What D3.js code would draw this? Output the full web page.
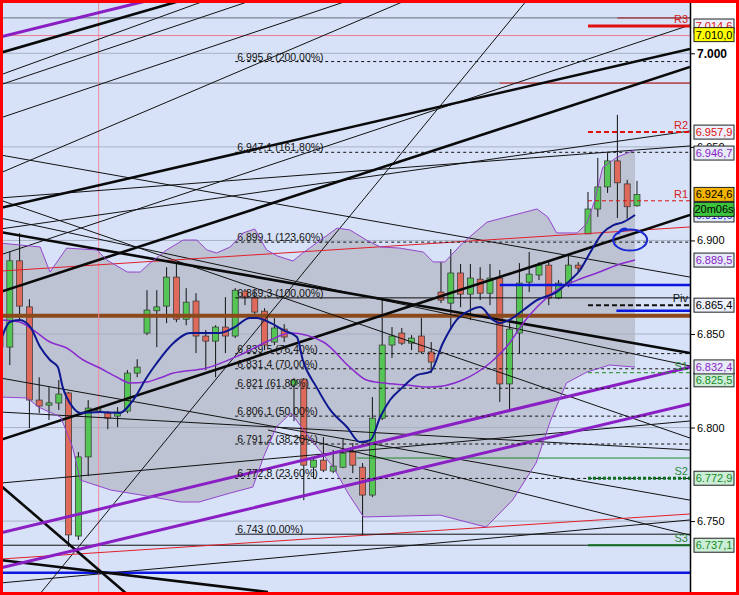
<!DOCTYPE html>
<html lang="en">
<head>
<meta charset="UTF-8">
<title>Candles with pivots and fibonacci levels</title>
<script src="https://cdn.jsdelivr.net/npm/d3@7"></script>
<style>
    body { margin: 0; background: #fff; }
    svg { display: block; font-family: "Liberation Sans", Arial, sans-serif; }
</style>
</head>
<body>
<script>
    const width  = 739;
    const height = 595;
    const plotRight = 690;

    // OHLC per candle (candle index = position)
    const open  = [6.8505,6.8430,6.8891,6.8645,6.8147,6.8120,6.8131,6.8185,6.7420,6.7843,6.8094,6.8077,6.8061,6.8088,6.8291,6.8505,6.8624,6.8649,6.8804,6.8579,6.8676,6.8489,6.8462,6.8537,6.8489,6.8729,6.8697,6.8622,6.8457,6.8526,6.8227,6.8259,6.7788,6.7826,6.7767,6.7788,6.7869,6.7788,6.7639,6.8050,6.8441,6.8505,6.8451,6.8489,6.8404,6.8724,6.8665,6.8826,6.8713,6.8793,6.8718,6.8799,6.8233,6.8505,6.8777,6.8815,6.8868,6.8692,6.8772,6.8868,6.9035,6.9168,6.9286,6.9425,6.9302,6.9185];
    const high  = [6.8547,6.8938,6.9039,6.8686,6.8269,6.8216,6.8254,6.8190,6.7869,6.8147,6.8104,6.8088,6.8109,6.8307,6.8365,6.8734,6.8734,6.8857,6.8879,6.8745,6.8718,6.8521,6.8547,6.8697,6.8745,6.8740,6.8734,6.8638,6.8585,6.8553,6.8265,6.8265,6.7842,6.7949,6.7880,6.7944,6.7917,6.7810,6.8163,6.8692,6.8537,6.8532,6.8494,6.8585,6.8457,6.8884,6.8954,6.8874,6.8874,6.8857,6.8874,6.8842,6.8558,6.8879,6.8938,6.8884,6.8884,6.8788,6.8922,6.8884,6.9259,6.9441,6.9467,6.9671,6.9324,6.9318];
    const low   = [6.8414,6.8334,6.8574,6.7997,6.8077,6.8040,6.8094,6.7362,6.7399,6.7740,6.8077,6.7991,6.8002,6.8077,6.8269,6.8494,6.8430,6.8558,6.8563,6.8547,6.8398,6.8307,6.8269,6.8398,6.8478,6.8654,6.8601,6.8414,6.8441,6.8457,6.8034,6.7612,6.7730,6.7762,6.7756,6.7783,6.7756,6.7426,6.7628,6.8040,6.8372,6.8441,6.8414,6.8398,6.8291,6.8665,6.8521,6.8643,6.8574,6.8681,6.8654,6.8137,6.8083,6.8398,6.8724,6.8788,6.8654,6.8686,6.8750,6.8831,6.9035,6.9126,6.9254,6.9120,6.9116,6.9180];
    const close = [6.8430,6.8891,6.8649,6.8147,6.8115,6.8132,6.8179,6.7426,6.7843,6.8104,6.8099,6.8050,6.8083,6.8291,6.8323,6.8628,6.8645,6.8804,6.8579,6.8670,6.8489,6.8462,6.8537,6.8489,6.8734,6.8697,6.8617,6.8441,6.8532,6.8484,6.8254,6.7799,6.7826,6.7772,6.7794,6.7863,6.7799,6.7639,6.8050,6.8441,6.8489,6.8451,6.8478,6.8404,6.8350,6.8681,6.8826,6.8713,6.8799,6.8718,6.8799,6.8233,6.8526,6.8772,6.8820,6.8868,6.8692,6.8772,6.8868,6.8852,6.9168,6.9286,6.9425,6.9308,6.9180,6.9246];

    // Bollinger bands and moving averages as [candle index, price]
    const upperBand = [[0,6.8986],[4.1,6.8965],[5.1,6.8831],[6.8,6.8959],[9.9,6.8949],[10.9,6.8895],[13,6.8831],[14.3,6.8831],[15.3,6.8879],[17,6.8949],[18.7,6.9002],[20.1,6.9002],[21.1,6.8949],[22.1,6.8933],[23.5,6.8965],[24.8,6.9040],[26,6.9061],[27.2,6.8949],[28.3,6.8917],[29.9,6.8890],[30.9,6.8933],[32.3,6.8986],[34.4,6.9066],[35.7,6.9056],[37.4,6.9002],[38.8,6.8965],[40.8,6.8959],[43.2,6.8938],[44.2,6.8885],[45.4,6.8885],[47.2,6.8986],[49.7,6.9098],[54.8,6.9168],[55.9,6.9125],[56.8,6.9040],[58.9,6.9040],[59.9,6.9092],[60.7,6.9216],[61.5,6.9390],[63,6.9446],[64.8,6.9483]];
    const lowerBand = [[0,6.8163],[2.8,6.8158],[3.9,6.8110],[6.2,6.8056],[7.4,6.7896],[8.2,6.7719],[11.3,6.7666],[15.6,6.7629],[18.4,6.7602],[20.3,6.7602],[23.5,6.7650],[25.8,6.7682],[26.9,6.7843],[28.2,6.8003],[29.7,6.8078],[31.2,6.7971],[34,6.7789],[35.5,6.7650],[37.1,6.7522],[44.9,6.7532],[49.6,6.7468],[52.3,6.7612],[54.7,6.7810],[56.2,6.8040],[57.8,6.8238],[59.9,6.8297],[62.2,6.8334],[64.8,6.8323]];
    const midBand = [[0.3,6.8575],[2,6.8564],[3.4,6.8521],[5.1,6.8457],[6.8,6.8425],[8.5,6.8361],[10.2,6.8318],[11.9,6.8270],[13.3,6.8238],[15,6.8243],[16.3,6.8265],[17.7,6.8291],[21.1,6.8318],[24.5,6.8388],[27.6,6.8468],[29.6,6.8505],[33,6.8457],[35.7,6.8323],[37.4,6.8254],[39.1,6.8238],[41.5,6.8227],[43.9,6.8216],[47.2,6.8254],[50,6.8345],[52,6.8452],[53.4,6.8559],[54.8,6.8644],[56.8,6.8735],[58.9,6.8788],[60.9,6.8826],[63,6.8869],[64.8,6.8895]];
    const fastMA = [[0.2,6.8484],[1,6.8564],[2,6.8575],[3.1,6.8537],[4.1,6.8430],[5.1,6.8361],[5.9,6.8323],[6.4,6.8216],[7.4,6.8110],[8.2,6.8078],[10.2,6.8083],[12.2,6.8078],[13.6,6.8147],[15,6.8270],[16,6.8345],[17.7,6.8452],[19.4,6.8505],[22.4,6.8505],[23.8,6.8532],[25.5,6.8585],[26.2,6.8585],[27.6,6.8559],[28.9,6.8521],[30.3,6.8484],[30.9,6.8361],[32.3,6.8216],[33.7,6.8094],[35.4,6.8003],[36.7,6.7923],[37.8,6.7933],[38.8,6.8056],[39.8,6.8147],[41.1,6.8216],[42.6,6.8281],[43.9,6.8297],[45.2,6.8452],[46.6,6.8575],[48,6.8628],[49,6.8644],[50.3,6.8575],[51,6.8559],[52,6.8575],[53.4,6.8628],[54.8,6.8681],[56.8,6.8724],[58.2,6.8788],[59.2,6.8842],[60.2,6.8933],[61.5,6.9040],[62.6,6.9082],[63.6,6.9098],[64.8,6.9136]];

    // Hand-drawn trend lines: [index1, price1, index2, price2]
    const thickLines = [[0,7.0002,18.67,7.0285],[0,6.9173,70.41,7.0023],[0,6.8724,70.41,6.9927],[0,6.7933,70.41,6.9136],[0,6.9045,70.41,6.8398],[0,6.7693,13.06,6.7105],[0,6.7292,27.35,6.7121]];
    const thinLines = [[0,6.9884,21.12,7.0285],[0,6.9831,25.82,7.0285],[0,6.9654,35.71,7.0285],[0,6.9360,41.53,7.0285],[0,6.9457,70.41,6.8804],[0,6.9216,70.41,6.7944],[3.98,6.7105,53.78,7.0285],[0,6.8922,70.41,7.0151],[0,6.9061,70.41,6.9585],[0,6.9227,70.41,6.9505],[0,6.9120,70.41,6.8329],[0,6.8083,70.41,6.7880],[0,6.7703,70.41,6.8035],[0,6.7169,70.41,6.7506],[0,6.8265,70.41,6.7612],[27.35,6.7987,70.41,6.7425]];
    const purpleLines = [[0,7.0087,15.31,7.0285],[0,6.7436,70.41,6.8323],[0,6.7249,70.41,6.8126]];
    const redLines = [[0,6.8836,70.41,6.9072],[0,6.7297,70.41,6.7538]];

    // Horizontal lines: value, first candle index, kind
    const hLineValues = [7.0189, 6.9841, 7.0095, 6.9841, 7.0189, 6.8762, 6.8624, 6.7224, 6.8598, 6.7837, 6.7371];
    const hLineStart  = [0, 0, 0, 51, 63, 51, 62.9, 0, 0, 36.4, 0];
    const hLineKinds  = ["grey", "grey", "pink", "red", "darkred", "blue", "blue", "blue", "brown", "green", "black"];
    const markerIndex = 10.07;   // pink vertical line

    // Fibonacci retracement
    const fibValues   = [6.9956, 6.9471, 6.8991, 6.8693, 6.8395, 6.8314, 6.8210, 6.8061, 6.7912, 6.7728, 6.7430];
    const fibPercents = [200, 161.8, 123.6, 100, 76.4, 70, 61.8, 50, 38.2, 23.6, 0];
    const fibStart = 24;

    // Pivot points
    const pivotNames  = ["R3", "R2", "R1", "Piv", "S1", "S2", "S3"];
    const pivotValues = [7.0146, 6.9579, 6.9212, 6.8654, 6.8293, 6.7729, 6.7371];
    const pivotStart = 60;

    // Price tags on the right axis (drawn in this order)
    const tagValues = [7.0146, 7.0100, 6.9579, 6.9467, 6.9136, 6.9246, 6.8895, 6.8654, 6.8255, 6.8324, 6.7729, 6.7371];
    const tagKinds  = ["r", "yellow", "r", "bb", "blue", "last", "bb", "piv", "s", "bb", "s", "s"];
    const timerText = "20m06s";

    const tickValues = [7.0, 6.95, 6.9, 6.85, 6.8, 6.75];
    const circleAt = [64.3, 6.9002];

    const x = d3.scaleLinear().domain([0, 70.41]).range([0, plotRight]);
    const y = d3.scaleLinear().domain([6.7105, 7.0285]).range([height, 0]);

    const loc = d3.formatLocale({decimal: ",", thousands: ".", grouping: [3], currency: ["", ""]});
    const priceFmt = v => loc.format(",.1f")(v * 1000);
    const pctFmt = loc.format(".2f");

    const svg = d3.select("body").append("svg").attr("width", width).attr("height", height);

    svg.append("defs").append("clipPath").attr("id", "plot")
        .append("rect").attr("width", plotRight).attr("height", height);

    svg.append("rect").attr("width", width).attr("height", height).attr("fill", "#fff");
    svg.append("rect").attr("width", plotRight).attr("height", height).attr("fill", "#d7e2f8");

    const plot = svg.append("g").attr("clip-path", "url(#plot)");

    const line = d3.line().x(d => x(d[0])).y(d => y(d[1]));

    // band fill
    plot.append("path")
        .attr("d", line(upperBand.concat(lowerBand.slice().reverse())) + "Z")
        .attr("fill", "#bec3d3");

    // grid
    plot.selectAll(".grid").data(tickValues).join("line").attr("class", "grid")
        .attr("x1", 0).attr("x2", plotRight)
        .attr("y1", d => y(d)).attr("y2", d => y(d))
        .attr("stroke", "#a9b2c4").attr("stroke-width", 1);

    // candles
    const idx = d3.range(open.length);
    const candle = plot.selectAll(".candle").data(idx).join("g").attr("class", "candle");
    candle.append("line")
        .attr("x1", i => x(i)).attr("x2", i => x(i))
        .attr("y1", i => y(high[i])).attr("y2", i => y(low[i]))
        .attr("stroke", "#111").attr("stroke-width", 1);
    candle.append("rect")
        .attr("x", i => x(i) - 3).attr("width", 6)
        .attr("y", i => y(Math.max(open[i], close[i])))
        .attr("height", i => Math.max(1.5, Math.abs(y(open[i]) - y(close[i]))))
        .attr("fill", i => close[i] >= open[i] ? "#55c655" : "#df6a5c")
        .attr("stroke", "#333").attr("stroke-width", 0.7);

    // horizontal levels
    const hStyle = {
        grey:    {c: "#7d8594", w: 1.2},
        pink:    {c: "#f07890", w: 1},
        red:     {c: "#d42020", w: 1},
        darkred: {c: "#b01818", w: 1},
        blue:    {c: "#0b16e0", w: 2.5},
        brown:   {c: "#8a4a1c", w: 4},
        green:   {c: "#1f8a2a", w: 1},
        black:   {c: "#111", w: 1}
    };
    plot.selectAll(".hl").data(hLineValues).join("line").attr("class", "hl")
        .attr("x1", (d, i) => x(hLineStart[i])).attr("x2", plotRight)
        .attr("y1", d => y(d)).attr("y2", d => y(d))
        .attr("stroke", (d, i) => hStyle[hLineKinds[i]].c)
        .attr("stroke-width", (d, i) => hStyle[hLineKinds[i]].w);

    plot.append("line")
        .attr("x1", x(markerIndex)).attr("x2", x(markerIndex))
        .attr("y1", 0).attr("y2", height)
        .attr("stroke", "#f08aa0").attr("stroke-width", 1);

    // trend lines
    function drawSegments(data, color, w) {
        plot.append("g").selectAll("line").data(data).join("line")
            .attr("x1", d => x(d[0])).attr("y1", d => y(d[1]))
            .attr("x2", d => x(d[2])).attr("y2", d => y(d[3]))
            .attr("stroke", color).attr("stroke-width", w);
    }
    drawSegments(thinLines, "#111", 1);
    drawSegments(redLines, "#e0202a", 1);
    drawSegments(thickLines, "#0a0a0a", 2.6);
    drawSegments(purpleLines, "#8a1fc4", 3);

    // fibonacci
    const fib = plot.selectAll(".fib").data(fibValues).join("g").attr("class", "fib");
    fib.append("line")
        .attr("x1", x(fibStart)).attr("x2", plotRight)
        .attr("y1", d => y(d)).attr("y2", d => y(d))
        .attr("stroke", "#111").attr("stroke-width", 1)
        .attr("stroke-dasharray", (d, i) => (fibPercents[i] === 100 || fibPercents[i] === 0) ? null : "3,3");
    fib.append("text")
        .attr("x", x(fibStart) + 2).attr("y", d => y(d) - 1)
        .attr("font-size", 10.5).attr("fill", "#111")
        .text((d, i) => priceFmt(d).replace(/,0$/, "") + " (" + pctFmt(fibPercents[i]) + "%)");

    // bands and averages
    plot.append("path").attr("d", line(upperBand)).attr("fill", "none").attr("stroke", "#9444cc").attr("stroke-width", 1);
    plot.append("path").attr("d", line(lowerBand)).attr("fill", "none").attr("stroke", "#9444cc").attr("stroke-width", 1);
    const smooth = d3.line().x(d => x(d[0])).y(d => y(d[1])).curve(d3.curveMonotoneX);
    plot.append("path").attr("d", smooth(midBand)).attr("fill", "none").attr("stroke", "#8a2bd0").attr("stroke-width", 1.5);
    plot.append("path").attr("d", smooth(fastMA)).attr("fill", "none").attr("stroke", "#0d178f").attr("stroke-width", 2);

    // pivots
    const pStyle = {
        R3:  {c: "#e01010", w: 3, dash: null},
        R2:  {c: "#e01010", w: 2, dash: "5,3"},
        R1:  {c: "#e01010", w: 1, dash: "4,3"},
        Piv: {c: "#111",    w: 2, dash: "5,3"},
        S1:  {c: "#1a8a1a", w: 1, dash: "4,3"},
        S2:  {c: "#0e6e1e", w: 3, dash: "3,2"},
        S3:  {c: "#0e6e1e", w: 2, dash: null}
    };
    const piv = plot.selectAll(".piv").data(pivotValues).join("g").attr("class", "piv");
    piv.append("line")
        .attr("x1", x(pivotStart)).attr("x2", plotRight)
        .attr("y1", d => y(d)).attr("y2", d => y(d))
        .attr("stroke", (d, i) => pStyle[pivotNames[i]].c)
        .attr("stroke-width", (d, i) => pStyle[pivotNames[i]].w)
        .attr("stroke-dasharray", (d, i) => pStyle[pivotNames[i]].dash);
    piv.append("text")
        .attr("x", plotRight - 2).attr("y", d => y(d) - 3)
        .attr("text-anchor", "end").attr("font-size", 11)
        .attr("fill", (d, i) => pivotNames[i][0] === "R" ? "#d41c1c" : pivotNames[i][0] === "S" ? "#2a8a3a" : "#111")
        .text((d, i) => pivotNames[i]);

    // blue circle annotation
    const cx = x(circleAt[0]), cy = y(circleAt[1]);
    plot.append("ellipse")
        .attr("cx", cx).attr("cy", cy).attr("rx", 17).attr("ry", 10.5)
        .attr("fill", "none").attr("stroke", "#1c2ad4").attr("stroke-width", 2);
    plot.append("path")
        .attr("d", `M${cx - 12},${cy - 6} Q${cx - 9},${cy - 13} ${cx - 3},${cy - 11}`)
        .attr("fill", "none").attr("stroke", "#1c2ad4").attr("stroke-width", 2);

    // right axis
    const axis = svg.append("g").attr("transform", `translate(${plotRight},0)`)
        .call(d3.axisRight(y).tickValues(tickValues).tickSize(5).tickSizeOuter(0).tickFormat(d3.format(".3f")));
    axis.select(".domain").attr("stroke", "#000").attr("stroke-width", 1.5);
    axis.selectAll(".tick line").attr("stroke", "#000");
    axis.selectAll(".tick text")
        .attr("x", 7).attr("fill", "#000")
        .attr("font-family", "'Liberation Sans', Arial, sans-serif")
        .attr("font-weight", d => d === 7.0 ? "bold" : null)
        .attr("font-size", d => d === 7.0 ? 12 : 11);

    // price tags
    const tagStyle = {
        r:      {bg: "#eef1fb", fg: "#e01010"},
        yellow: {bg: "#ffff00", fg: "#000"},
        bb:     {bg: "#e6ebf8", fg: "#8a1fc4"},
        blue:   {bg: "#e6ebf8", fg: "#1a2ad0"},
        last:   {bg: "#f4b400", fg: "#000"},
        piv:    {bg: "#eef1fb", fg: "#000"},
        s:      {bg: "#cdeed6", fg: "#158a2a"}
    };
    const tagW = 40;
    const tags = svg.append("g").selectAll("g").data(tagValues).join("g")
        .attr("transform", d => `translate(694,${y(d) - 7})`);
    tags.append("rect").attr("width", tagW).attr("height", 14)
        .attr("fill", (d, i) => tagStyle[tagKinds[i]].bg)
        .attr("stroke", "#222").attr("stroke-width", 1);
    tags.append("text").attr("x", tagW / 2).attr("y", 11).attr("font-size", 11)
        .attr("text-anchor", "middle")
        .attr("fill", (d, i) => tagStyle[tagKinds[i]].fg)
        .text(d => priceFmt(d));

    const lastValue = tagValues[tagKinds.indexOf("last")];
    const timer = svg.append("g").attr("transform", `translate(694,${y(lastValue) + 8})`);
    timer.append("rect").attr("width", tagW).attr("height", 14).attr("fill", "#3cc43c").attr("stroke", "#222");
    timer.append("text").attr("x", tagW / 2).attr("y", 11).attr("font-size", 11)
        .attr("text-anchor", "middle").attr("fill", "#000").text(timerText);

    // frame
    svg.append("rect").attr("x", 1.5).attr("y", 1.5).attr("width", width - 3).attr("height", height - 3)
        .attr("fill", "none").attr("stroke", "#ff0000").attr("stroke-width", 3);
</script>
</body>
</html>
